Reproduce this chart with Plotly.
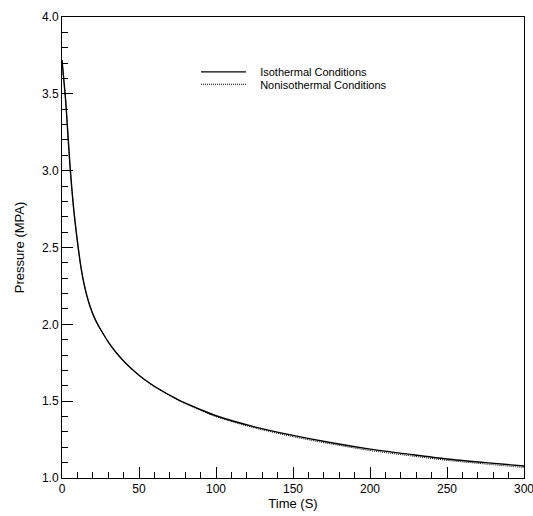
import plotly.graph_objects as go

time_s = [0, 1, 2.5, 5, 7.5, 10, 12.5, 15, 17.5, 20, 22.5, 25, 30, 35, 40, 45,
          50, 55, 60, 75, 90, 100, 125, 150, 175, 200, 225, 250, 275, 300]
p_isothermal = [3.72, 3.61, 3.44, 3.06, 2.76, 2.54, 2.36, 2.232, 2.139, 2.068,
                2.013, 1.968, 1.886, 1.818, 1.761, 1.712, 1.669, 1.631, 1.597, 1.512,
                1.445, 1.405, 1.333, 1.277, 1.229, 1.188, 1.155, 1.124, 1.10, 1.078]
p_nonisothermal = [3.72, 3.61, 3.44, 3.06, 2.76, 2.54, 2.36, 2.232, 2.139, 2.068,
                   2.013, 1.968, 1.886, 1.818, 1.760, 1.710, 1.667, 1.628, 1.593, 1.508,
                   1.440, 1.399, 1.326, 1.269, 1.221, 1.179, 1.146, 1.115, 1.091, 1.068]

x_ticks = [0, 50, 100, 150, 200, 250, 300]
y_ticks = [1.0, 1.5, 2.0, 2.5, 3.0, 3.5, 4.0]

FONT = "Liberation Sans, Arial, sans-serif"
NB = "\u00a0\u00a0\u00a0"

fig = go.Figure()
fig.add_trace(go.Scatter(x=time_s, y=p_isothermal, mode="lines",
                         name=NB + "Isothermal Conditions",
                         line=dict(color="black", width=1.4, shape="spline", smoothing=0.8),
                         legend="legend"))
fig.add_trace(go.Scatter(x=time_s, y=p_nonisothermal, mode="lines",
                         name=NB + "Nonisothermal Conditions",
                         line=dict(color="black", width=1, dash="1px,1px",
                                   shape="spline", smoothing=0.8),
                         legend="legend2"))

axis_common = dict(showgrid=False, zeroline=False, showline=True, linecolor="black",
                   linewidth=1, mirror=True, ticks="inside", ticklen=11,
                   tickcolor="black", tickwidth=1, ticklabeloverflow="allow",
                   automargin=False,
                   tickfont=dict(family=FONT, size=12, color="black"))

legend_common = dict(xanchor="left", yanchor="middle", itemwidth=45,
                     font=dict(family=FONT, size=11, color="black"),
                     bgcolor="rgba(0,0,0,0)", borderwidth=0)

fig.update_layout(
    width=533, height=516,
    margin=dict(l=62, r=9, t=17, b=38),
    paper_bgcolor="white", plot_bgcolor="white",
    font=dict(family=FONT, size=12, color="black"),
    showlegend=True,
    legend=dict(x=0.29, y=0.881, **legend_common),
    legend2=dict(x=0.29, y=0.854, **legend_common),
    xaxis=dict(range=[0, 300], tickvals=x_ticks,
               ticktext=[str(v) for v in x_ticks],
               minor=dict(dtick=10, ticks="inside", ticklen=6, tickcolor="black"),
               title=dict(text="Time (S)", font=dict(family=FONT, size=13), standoff=2),
               **axis_common),
    yaxis=dict(range=[1.0, 4.0], tickvals=y_ticks,
               ticktext=[f"{v:.1f}" for v in y_ticks],
               minor=dict(dtick=0.1, ticks="inside", ticklen=6, tickcolor="black"),
               title=dict(text="Pressure (MPA)", font=dict(family=FONT, size=13), standoff=14),
               **axis_common),
)

fig.write_html("out.html")
